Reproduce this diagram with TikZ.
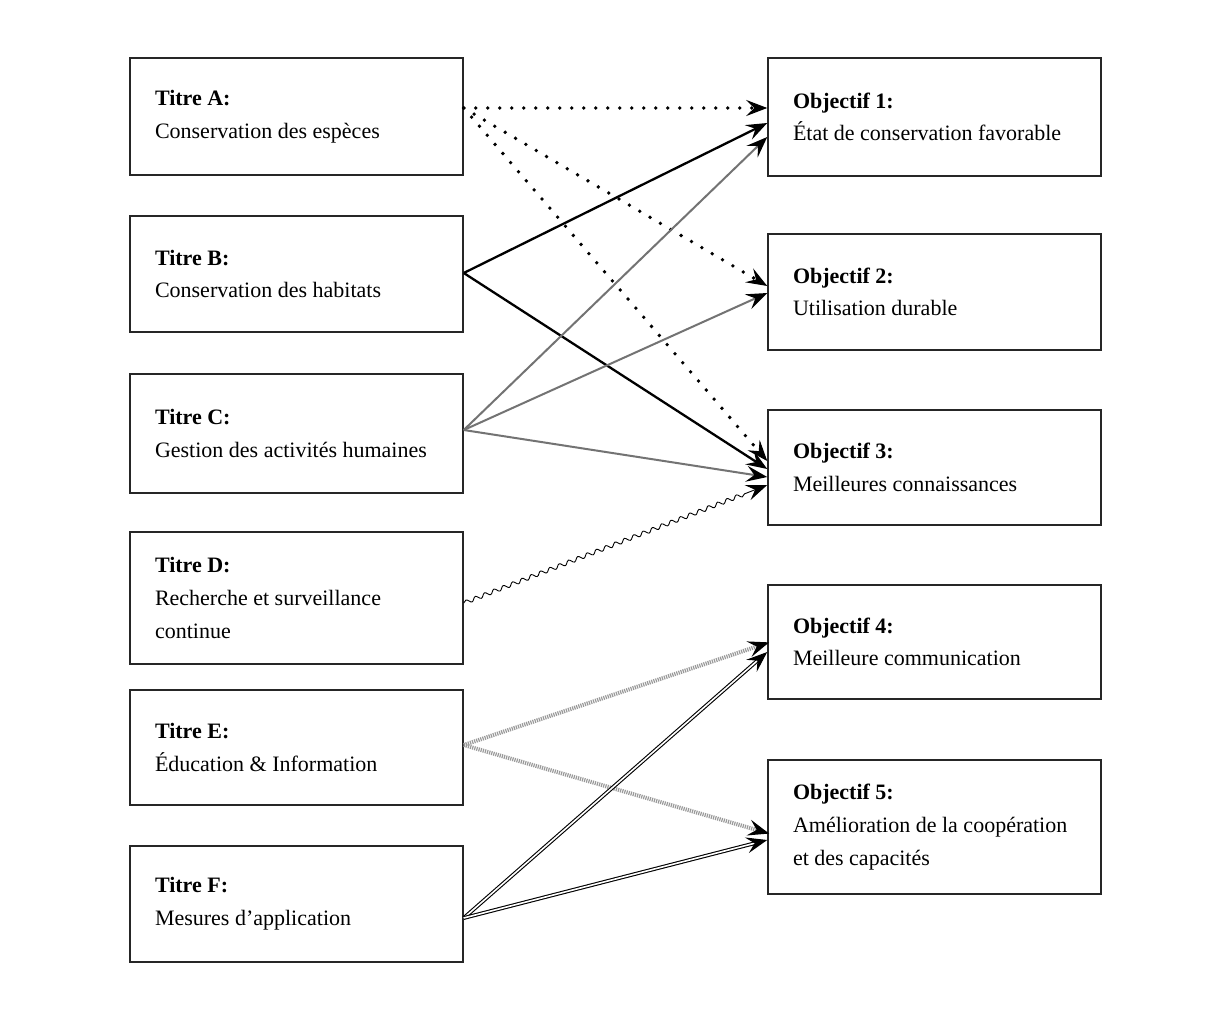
\documentclass[tikz,border=0pt]{standalone}
\usepackage{fontspec}
\setmainfont{Liberation Serif}
\usetikzlibrary{arrows.meta,calc,decorations.pathmorphing}
\begin{document}
\begin{tikzpicture}[x=0.5pt,y=-0.5pt,
  box/.style={draw=black!85,line width=0.75pt,minimum width=166.5pt,text width=141.5pt,
    inner xsep=12.5pt,align=flush left,font=\fontsize{11}{16.3}\selectfont},
  tip/.style={-{Stealth[length=10.5pt,width=8pt,inset=4pt]}},
  dotarrow/.style={-{Stealth[length=10.5pt,width=8pt,inset=4pt,line width=0.5pt]},
    line width=1.9pt,line cap=round,dash pattern=on 0pt off 6pt},
  boldarrow/.style={tip,line width=1.15pt},
  greyarrow/.style={draw=black!55,line width=1pt,
    -{Stealth[length=10.5pt,width=8pt,inset=4pt,black]}},
  wavyarrow/.style={-{Stealth[length=10.5pt,width=8pt,inset=4pt]},line width=0.45pt,
    decorate,decoration={snake,amplitude=1pt,segment length=5pt,post length=10pt}},
  stripearrow/.style={draw=black!40,line width=2pt,dash pattern=on 0.6pt off 0.5pt,
    -{Stealth[length=10.5pt,width=8pt,inset=4pt,black,sep=-1pt]}},
  doublearrow/.style={draw=black,double=white,double distance=0.8pt,line width=0.55pt,
    -{Stealth[length=10.5pt,width=8pt,inset=4pt]}}
]
\useasboundingbox[fill=white] (0,0) rectangle (1211,1012);

\node[box,minimum height=58.5pt] (A) at (296.5,116.5) {\textbf{Titre A:}\\Conservation des espèces};
\node[box,minimum height=58pt] (B) at (296.5,274) {\textbf{Titre B:}\\Conservation des habitats};
\node[box,minimum height=59.5pt] (C) at (296.5,433.5) {\textbf{Titre C:}\\Gestion des activités humaines};
\node[box,minimum height=66pt] (D) at (296.5,598) {\textbf{Titre D:}\\Recherche et surveillance\\continue};
\node[box,minimum height=57.5pt] (E) at (296.5,747.5) {\textbf{Titre E:}\\Éducation \& Information};
\node[box,minimum height=58pt] (F) at (296.5,904) {\textbf{Titre F:}\\Mesures d’application};

\node[box,minimum height=59pt] (O1) at (934.5,117) {\textbf{Objectif 1:}\\État de conservation favorable};
\node[box,minimum height=58pt] (O2) at (934.5,292) {\textbf{Objectif 2:}\\Utilisation durable};
\node[box,minimum height=57.5pt] (O3) at (934.5,467.5) {\textbf{Objectif 3:}\\Meilleures connaissances};
\node[box,minimum height=57pt] (O4) at (934.5,642) {\textbf{Objectif 4:}\\Meilleure communication};
\node[box,minimum height=67pt] (O5) at (934.5,827) {\textbf{Objectif 5:}\\Amélioration de la coopération\\et des capacités};

% Titre A
\draw[dotarrow] ($(A.east)+(0,-8.5)$) -- ($(O1.west)+(0,-9)$);
\draw[dotarrow] ($(A.east)+(0,-8.5)$) -- ($(O2.west)+(0,-6)$);
\draw[dotarrow] ($(A.east)+(0,-8.5)$) -- ($(O3.west)+(0,-6.5)$);
% Titre B
\draw[boldarrow] ($(B.east)+(0,-1)$) -- ($(O1.west)+(0,6)$);
\draw[boldarrow] ($(B.east)+(0,-1)$) -- ($(O3.west)+(0,1.5)$);
% Titre C
\draw[greyarrow] ($(C.east)+(0,-3.5)$) -- ($(O1.west)+(0,20)$);
\draw[greyarrow] ($(C.east)+(0,-3.5)$) -- ($(O2.west)+(0,1)$);
\draw[greyarrow] ($(C.east)+(0,-3.5)$) -- ($(O3.west)+(0,9.5)$);
% Titre D
\draw[wavyarrow] ($(D.east)+(0,5)$) -- ($(O3.west)+(0,17.5)$);
% Titre E
\draw[stripearrow] ($(E.east)+(0,-2.5)$) -- ($(O4.west)+(0,1)$);
\draw[stripearrow] ($(E.east)+(0,-2.5)$) -- ($(O5.west)+(0,6)$);
% Titre F
\draw[doublearrow] ($(F.east)+(0,14)$) -- ($(O4.west)+(0,10)$);
\draw[doublearrow] ($(F.east)+(0,14)$) -- ($(O5.west)+(0,13)$);
\end{tikzpicture}
\end{document}
